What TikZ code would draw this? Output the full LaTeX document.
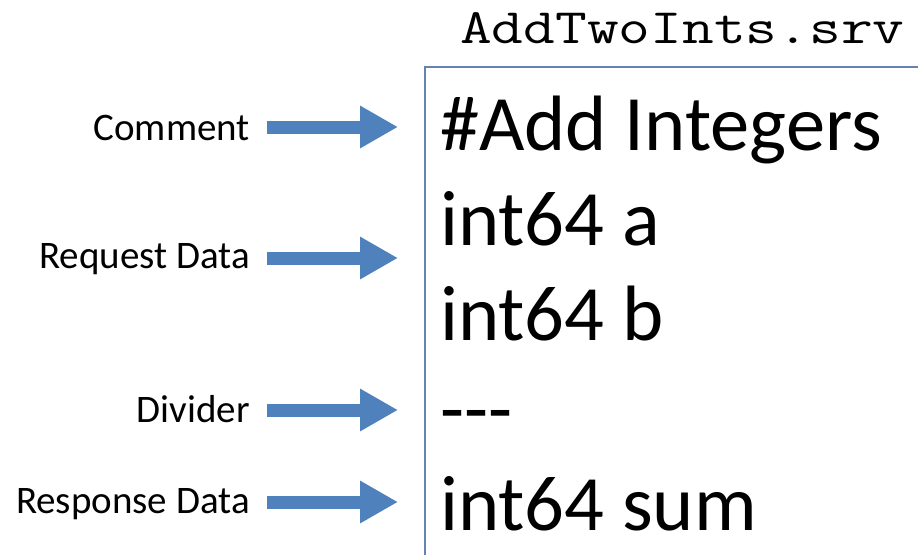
\documentclass[tikz,border=0pt]{standalone}
\usepackage{fontspec}
\setmainfont{Carlito}
\usetikzlibrary{arrows.meta}
\definecolor{arrowblue}{RGB}{79,129,189}
\definecolor{boxline}{RGB}{100,130,178}
\tikzset{
  lbl/.style={anchor=base east, inner sep=0pt, font=\fontsize{39}{42}\selectfont},
  code/.style={anchor=base west, inner sep=0pt, font=\fontsize{78.5}{80}\selectfont},
  bigarrow/.style={draw=arrowblue, line width=13pt, -{Triangle[length=38pt,width=40pt]}},
}
\begin{document}
\begin{tikzpicture}[x=1pt,y=-1pt]
\useasboundingbox (0,0) rectangle (918,555);
% title
\node[anchor=base west, inner sep=0pt] (title) at (460,43) {\scalebox{1.245}[1]{\ttfamily\fontsize{49.5}{50}\selectfont AddTwoInts.srv}};
% box
\coordinate (boxtl) at (425,67);
\coordinate (boxtr) at (918,67);
\coordinate (boxbl) at (425,555);
\draw[boxline, line width=1.3pt] (boxtr) -- (boxtl) -- (boxbl);
% code lines
\node[code] (c1) at (440,150) {\#Add Integers};
\node[code] (c2) at (440,245) {int64 a};
\node[code] (c3) at (440,340) {int64 b};
\node[code] (c4) at (440,435) {-{}-{}-};
\node[code] (c5) at (440,530) {int64 sum};
% labels
\node[lbl] (l1) at (250,140) {Comment};
\node[lbl] (l2) at (250,268) {Request Data};
\node[lbl] (l3) at (250,422) {Divider};
\node[lbl] (l4) at (250,513) {Response Data};
% arrow ends
\coordinate (a1s) at (267,127); \coordinate (a1e) at (398,127);
\coordinate (a2s) at (267,258); \coordinate (a2e) at (398,258);
\coordinate (a3s) at (267,410); \coordinate (a3e) at (398,410);
\coordinate (a4s) at (267,502); \coordinate (a4e) at (398,502);
\draw[bigarrow] (a1s) -- (a1e);
\draw[bigarrow] (a2s) -- (a2e);
\draw[bigarrow] (a3s) -- (a3e);
\draw[bigarrow] (a4s) -- (a4e);
\end{tikzpicture}
\end{document}
